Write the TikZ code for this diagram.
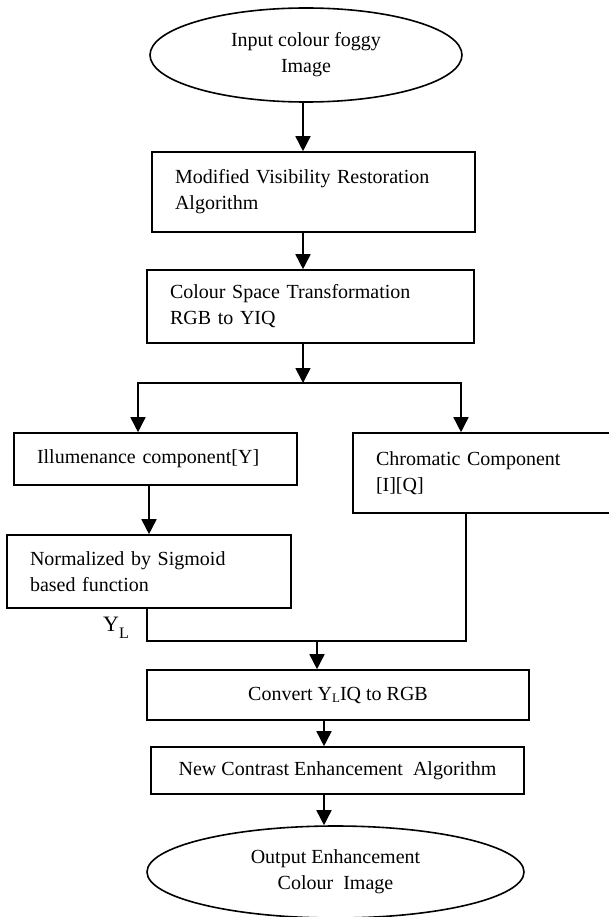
\documentclass[tikz,border=0pt]{standalone}
\usepackage{fontspec}
\setmainfont{Liberation Serif}
\usetikzlibrary{arrows.meta,positioning,calc,shapes.geometric}
\newcommand{\lumsub}{\raisebox{-0.3ex}{\fontsize{13}{13}\selectfont L}}

\begin{document}
\begin{tikzpicture}[x=1pt,y=-1pt,
    every node/.style={font=\fontsize{20}{26}\selectfont},
    procbox/.style={draw,line width=1.6pt,rectangle,inner xsep=23pt,inner ysep=0pt,align=left},
    termnode/.style={draw,line width=1.6pt,ellipse,inner sep=0pt,align=center},
    flow/.style={line width=1.6pt,-{Triangle[length=15pt,width=15pt]}},
    link/.style={line width=1.6pt}]
    \useasboundingbox (0,0) rectangle (608,917);

    % input and first two stages
    \node[termnode,minimum width=312pt,minimum height=94pt] (in) at (306,55) {Input colour foggy\\Image};
    \node[procbox,text width=277pt,minimum height=80pt] (mvr) at (313.5,192) {Modified Visibility Restoration\\Algorithm};
    \node[procbox,text width=281pt,minimum height=73pt] (cst) at (310.5,306.5) {Colour Space Transformation\\RGB to YIQ};

    % the two branches
    \node[procbox,text width=237pt,minimum height=52pt] (ill) at (155.5,459) {Illumenance component[Y]};
    \node[procbox,text width=213pt,minimum height=80pt] (chr) at (482.5,473) {Chromatic Component\\{[I][Q]}};
    \node[procbox,text width=238pt,minimum height=73pt] (nrm) at (149,571.5) {Normalized by Sigmoid\\based function};
    \node[font=\fontsize{22}{24}\selectfont] (yl) at (116,628) {Y\raisebox{-7pt}{\fontsize{16}{16}\selectfont L}};

    % back to one path
    \node[procbox,align=center,minimum width=382pt,minimum height=50pt] (cnv) at (338,695) {Convert Y\lumsub IQ to RGB};
    \node[procbox,align=center,minimum width=373pt,minimum height=47pt] (nce) at (337.5,770.5) {New Contrast Enhancement~ Algorithm};
    \node[termnode,minimum width=377pt,minimum height=92pt] (out) at (335.5,872) {Output Enhancement\\Colour~ Image};

    \coordinate (spine) at (303,0);
    \coordinate (split) at (303,383);
    \coordinate (sl) at (138,383);
    \coordinate (sr) at (461,383);
    \coordinate (mergeR) at (466,641);
    \coordinate (merge) at (317,641);
    \coordinate (axis) at (324,0);

    \draw[flow] (in.south -| spine) -- (mvr.north -| spine);
    \draw[flow] (mvr.south -| spine) -- (cst.north -| spine);
    \draw[flow] (cst.south -| split) -- (split);
    \draw[flow] (split) -- (sl) -- (sl |- ill.north);
    \draw[flow] (split) -- (sr) -- (sr |- chr.north);
    \draw[flow] (ill.south -| nrm.north) -- (nrm.north);
    \draw[link] (nrm.south -| 147,0) -- (147,641) -- (mergeR) -- (mergeR |- chr.south);
    \draw[flow] (merge) -- (merge |- cnv.north);
    \draw[flow] (cnv.south -| axis) -- (nce.north -| axis);
    \draw[flow] (nce.south -| axis) -- (out.north -| axis);
\end{tikzpicture}
\end{document}
